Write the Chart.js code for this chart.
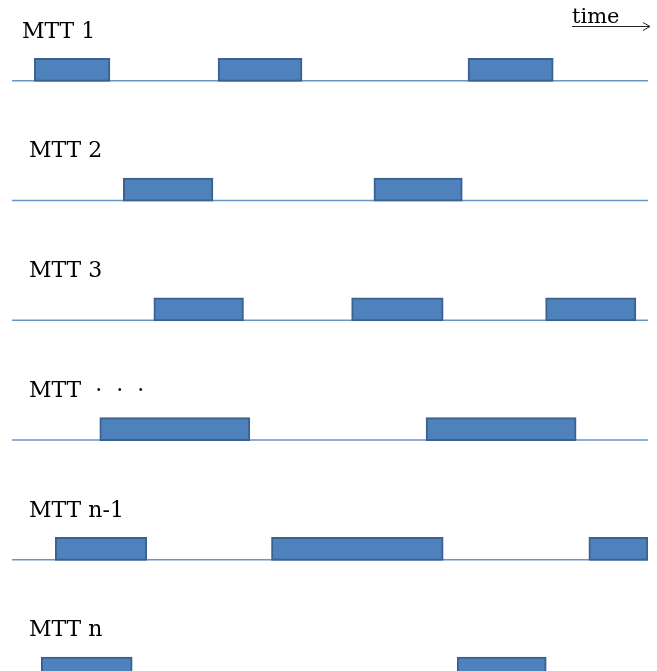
<!DOCTYPE html>
<html>
<head>
<meta charset="utf-8">
<title>MTT timeline</title>
<script src="https://cdn.jsdelivr.net/npm/chart.js@4/dist/chart.umd.min.js"></script>
<style>
    html, body { margin: 0; padding: 0; background: #fff; overflow: hidden; }
    #wrap { position: relative; width: 657px; height: 671px; }
</style>
</head>
<body>
<div id="wrap"><canvas id="timelineChart"></canvas></div>
<script>
// Row names, top to bottom
const rowLabels = ['MTT 1', 'MTT 2', 'MTT 3', 'MTT  \u00b7  \u00b7  \u00b7', 'MTT n-1', 'MTT n'];

// Busy intervals per row, [start, end] in time units (0 - 100)
const mtt1 = [[3.5, 15.4], [32.4, 45.6], [71.7, 85.1]];
const mtt2 = [[17.5, 31.6], [56.9, 70.8]];
const mtt3 = [[22.3, 36.4], [53.4, 67.8], [83.9, 98.1]];
const mttDots = [[13.8, 37.4], [65.1, 88.7]];
const mttNMinus1 = [[6.8, 21.2], [40.8, 67.8], [90.7, 100]];
const mttN = [[4.6, 18.9], [70.0, 84.0]];

const rows = [mtt1, mtt2, mtt3, mttDots, mttNMinus1, mttN];

const BAR_THICKNESS = 23;

// Draw the thin baseline under each row, and the row name above it
const rowPlugin = {
    id: 'rows',
    beforeDatasetsDraw(chart) {
        const { ctx, chartArea, scales } = chart;
        ctx.save();
        ctx.strokeStyle = '#6a93c6';
        ctx.lineWidth = 1.5;
        rows.forEach((row, i) => {
            const y = scales.y.getPixelForValue(i) + BAR_THICKNESS / 2 - 0.5;
            ctx.beginPath();
            ctx.moveTo(chartArea.left, y);
            ctx.lineTo(chartArea.right, y);
            ctx.stroke();
        });

        ctx.fillStyle = '#000';
        ctx.font = '22px "DejaVu Serif"';
        ctx.textBaseline = 'middle';
        rowLabels.forEach((label, i) => {
            const y = scales.y.getPixelForValue(i) - 38;
            ctx.fillText(label, chartArea.left + (i === 0 ? 10 : 17), y);
        });
        ctx.restore();
    }
};

// "time ->" note in the top right corner
const timeArrowPlugin = {
    id: 'timeArrow',
    afterDraw(chart) {
        const ctx = chart.ctx;
        const right = chart.width - 7;
        const left = right - 78;
        ctx.save();
        ctx.fillStyle = '#000';
        ctx.font = '21px "DejaVu Serif"';
        ctx.textBaseline = 'alphabetic';
        ctx.fillText('time', left, 23);
        ctx.strokeStyle = '#222';
        ctx.lineWidth = 1;
        ctx.beginPath();
        ctx.moveTo(left, 26.5);
        ctx.lineTo(right, 26.5);
        ctx.moveTo(right - 7, 22.5);
        ctx.lineTo(right, 26.5);
        ctx.lineTo(right - 7, 30.5);
        ctx.stroke();
        ctx.restore();
    }
};

document.addEventListener('DOMContentLoaded', () => {
    const ctx = document.getElementById('timelineChart').getContext('2d');
    const bars = rows.flatMap((row, i) => row.map(([start, end]) => ({ y: i, x: [start, end] })));

    new Chart(ctx, {
        type: 'bar',
        data: {
            datasets: [{
                data: bars,
                backgroundColor: '#4f81bd',
                borderColor: '#3b6190',
                borderWidth: 2,
                borderSkipped: false,
                barThickness: BAR_THICKNESS
            }]
        },
        options: {
            indexAxis: 'y',
            responsive: true,
            maintainAspectRatio: false,
            animation: false,
            layout: {
                padding: { top: 10, left: 12, right: 9, bottom: 0 }
            },
            scales: {
                x: {
                    type: 'linear',
                    min: 0,
                    max: 100,
                    display: false
                },
                y: {
                    type: 'linear',
                    reverse: true,
                    offset: false,
                    min: -0.5,
                    max: 5.02,
                    display: false
                }
            },
            plugins: {
                legend: { display: false },
                tooltip: { enabled: false }
            }
        },
        plugins: [rowPlugin, timeArrowPlugin]
    });
});
</script>
</body>
</html>
